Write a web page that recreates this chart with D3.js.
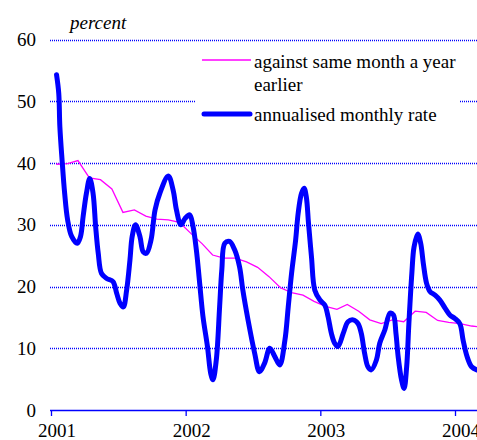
<!DOCTYPE html>
<html>
<head>
<meta charset="utf-8">
<script src="https://cdn.jsdelivr.net/npm/d3@7"></script>
<style>
  body { margin: 0; background: #fff; }
</style>
</head>
<body>
<div id="chart"></div>
<script>
// year-on-year (mid-month points)
const yoyMonths = [
  "2001-01","2001-02","2001-03","2001-04","2001-05","2001-06","2001-07","2001-08","2001-09","2001-10","2001-11","2001-12",
  "2002-01","2002-02","2002-03","2002-04","2002-05","2002-06","2002-07","2002-08","2002-09","2002-10","2002-11","2002-12",
  "2003-01","2003-02","2003-03","2003-04","2003-05","2003-06","2003-07","2003-08","2003-09","2003-10","2003-11","2003-12",
  "2004-01","2004-02","2004-03"
];
const yoyValues = [
  39.8, 39.9, 40.4, 37.6, 37.3, 35.8, 32.0, 32.4, 31.4, 30.9, 30.8, 30.4,
  28.6, 26.9, 25.1, 24.6, 24.6, 24.0, 23.1, 21.6, 19.8, 19.0, 18.6, 17.6,
  16.8, 16.3, 17.1, 16.0, 14.6, 14.0, 14.6, 14.3, 16.0, 15.8, 14.5, 14.2,
  14.0, 13.6, 13.4
];

// annualised monthly rate
const rateDates = [
  "2001-01-16","2001-01-22","2001-01-25","2001-01-31","2001-02-07","2001-02-15","2001-02-26","2001-03-13",
  "2001-03-22","2001-03-29","2001-04-07","2001-04-16","2001-04-25","2001-05-02","2001-05-09","2001-05-18",
  "2001-06-01","2001-06-18","2001-06-28","2001-07-07","2001-07-16","2001-07-25","2001-08-03","2001-08-09",
  "2001-08-18","2001-08-30","2001-09-08","2001-09-17","2001-09-29","2001-10-10","2001-10-23","2001-11-15",
  "2001-11-28","2001-12-07","2001-12-19","2001-12-30","2002-01-12","2002-01-21","2002-01-30","2002-02-08",
  "2002-02-17","2002-03-01","2002-03-10","2002-03-16","2002-03-25","2002-04-03","2002-04-09","2002-04-17",
  "2002-04-30","2002-05-14","2002-05-27","2002-06-05","2002-06-19","2002-07-07","2002-07-20","2002-08-03",
  "2002-08-17","2002-08-31","2002-09-13","2002-09-27","2002-10-06","2002-10-15","2002-10-26","2002-11-02",
  "2002-11-11","2002-11-18","2002-11-24","2002-11-30","2002-12-08","2002-12-17","2002-12-31","2003-01-13",
  "2003-01-22","2003-01-31","2003-02-09","2003-02-18","2003-03-04","2003-03-17","2003-03-31","2003-04-13",
  "2003-04-22","2003-05-01","2003-05-10","2003-05-19","2003-06-02","2003-06-11","2003-06-25","2003-07-09",
  "2003-07-18","2003-07-25","2003-07-31","2003-08-09","2003-08-16","2003-08-23","2003-08-29","2003-09-06",
  "2003-09-12","2003-09-22","2003-09-30","2003-10-07","2003-10-16","2003-10-25","2003-11-08","2003-11-21",
  "2003-12-05","2003-12-18","2004-01-01","2004-01-14","2004-01-23","2004-02-03","2004-02-15","2004-02-29"
];
const rateValues = [
  54.3, 51.3, 45.9, 40.5, 35.1, 30.8, 28.1, 27.0,
  28.1, 31.3, 35.1, 37.5, 35.1, 29.7, 25.4, 22.1,
  21.3, 20.8, 18.9, 17.3, 16.7, 19.4, 24.3, 28.1,
  30.0, 28.1, 25.6, 25.4, 27.5, 32.4, 35.1, 37.9,
  35.6, 32.4, 30.0, 31.0, 31.6, 29.7, 25.9, 20.5,
  15.1, 10.3, 5.9, 4.9, 8.1, 16.7, 22.7, 27.0,
  27.3, 25.9, 23.2, 19.4, 14.6, 9.2, 6.2, 7.6,
  10.0, 8.6, 7.3, 11.3, 16.7, 22.1, 27.5, 31.9,
  35.1, 35.9, 34.5, 30.2, 24.8, 19.4, 17.8, 17.0,
  15.1, 12.4, 10.8, 10.3, 12.4, 14.3, 14.6, 14.0,
  12.4, 9.2, 7.0, 6.5, 8.1, 10.8, 13.0, 15.7,
  15.4, 12.4, 8.6, 4.9, 3.5, 7.0, 14.0, 22.1,
  26.4, 28.5, 27.0, 23.8, 20.5, 19.2, 18.6, 17.8,
  16.5, 15.4, 14.8, 14.0, 11.3, 8.6, 7.0, 6.5
];

const yTicks = [0, 10, 20, 30, 40, 50, 60];
const xTicks = ["2001", "2002", "2003", "2004"];
const legendLabels = [["against same month a year", "earlier"], ["annualised monthly rate"]];

let width = 477,
height = 440;

let serif = "'Liberation Serif'";

let parseDay = d3.timeParse("%Y-%m-%d");
let parseMonth = d3.timeParse("%Y-%m");
let parseYear = d3.timeParse("%Y");

let x = d3.scaleTime()
.domain([parseYear("2001"), parseYear("2004")])
.range([51, 455]);

let y = d3.scaleLinear()
.domain([0, 60])
.range([410, 39.5]);

let yoy = yoyMonths.map((m, i) => ({date: d3.timeDay.offset(parseMonth(m), 14), value: yoyValues[i]}));
let rate = rateDates.map((d, i) => ({date: parseDay(d), value: rateValues[i]}));

let svg = d3.select("#chart")
.append("svg")
.attr("width", width)
.attr("height", height);

// gridlines
svg.append("g")
.selectAll("line")
.data(yTicks.filter(t => t > 0))
.enter()
.append("line")
.attr("x1", 50)
.attr("x2", width)
.attr("y1", d => Math.round(y(d)) + 0.5)
.attr("y2", d => Math.round(y(d)) + 0.5)
.attr("stroke", "#0000ff")
.attr("stroke-width", 1.3)
.attr("stroke-dasharray", "1,1");

// y labels
svg.append("g")
.selectAll("text")
.data(yTicks)
.enter()
.append("text")
.attr("x", 36)
.attr("y", d => y(d) + 6.5)
.attr("text-anchor", "end")
.style("font-family", serif)
.style("font-size", "19px")
.text(d => d);

svg.append("text")
.attr("x", 70)
.attr("y", 29)
.style("font-family", serif)
.style("font-size", "19px")
.style("font-style", "italic")
.text("percent");

// x axis
let xAxis = svg.append("g")
.attr("transform", "translate(0,410)")
.call(d3.axisBottom(x).tickValues(xTicks.map(parseYear)).tickSize(6).tickFormat(""));

xAxis.select(".domain").attr("d", "M50,0.5H" + width).attr("stroke", "#0000ff").attr("stroke-width", 1.5);
xAxis.selectAll(".tick line").attr("stroke", "#0000ff").attr("stroke-width", 1.3);

svg.append("g")
.selectAll("text")
.data(xTicks)
.enter()
.append("text")
.attr("x", d => x(parseYear(d)) + 6)
.attr("y", 437)
.attr("text-anchor", "middle")
.style("font-family", serif)
.style("font-size", "19px")
.text(d => d);

// legend box
svg.append("rect")
.attr("x", 195)
.attr("y", 45)
.attr("width", 265)
.attr("height", 112)
.attr("fill", "#fff");

let line = d3.line()
.x(d => x(d.date))
.y(d => y(d.value));

svg.append("path")
.datum(yoy)
.attr("fill", "none")
.attr("stroke", "#ff00ff")
.attr("stroke-width", 1.3)
.attr("d", line);

svg.append("path")
.datum(rate)
.attr("fill", "none")
.attr("stroke", "#0000ff")
.attr("stroke-width", 5)
.attr("stroke-linejoin", "round")
.attr("stroke-linecap", "round")
.attr("d", line.curve(d3.curveCatmullRom.alpha(0.5)));

// legend
svg.append("line")
.attr("x1", 202).attr("x2", 251)
.attr("y1", 60).attr("y2", 60)
.attr("stroke", "#ff00ff")
.attr("stroke-width", 1.3);

svg.append("line")
.attr("x1", 204).attr("x2", 250)
.attr("y1", 114).attr("y2", 114)
.attr("stroke", "#0000ff")
.attr("stroke-width", 5)
.attr("stroke-linecap", "round");

let lg = svg.append("g").style("font-family", serif).style("font-size", "19px");
lg.append("text").attr("x", 254).attr("y", 68).text(legendLabels[0][0]);
lg.append("text").attr("x", 254).attr("y", 91).text(legendLabels[0][1]);
lg.append("text").attr("x", 254).attr("y", 121).text(legendLabels[1][0]);
</script>
</body>
</html>
